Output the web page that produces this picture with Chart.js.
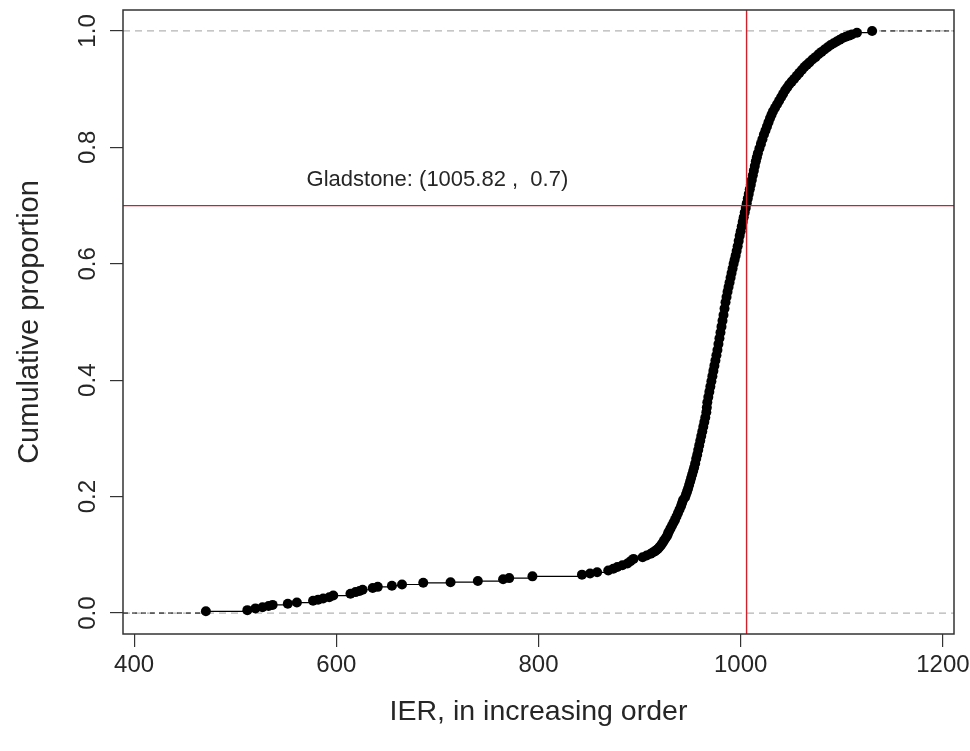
<!DOCTYPE html>
<html>
<head>
<meta charset="utf-8">
<script src="https://cdn.jsdelivr.net/npm/chart.js@4.4.1/dist/chart.umd.min.js"></script>
<style>
  html, body { margin: 0; padding: 0; background: #fff; }
</style>
</head>
<body>
<canvas id="ecdf" width="970" height="751"></canvas>
<script>
/* ECDF of IER, R-style (plot.ecdf) */

// sorted IER values and their cumulative proportion
const ierValues = [
  471, 512, 520, 527, 533, 537, 552, 561, 577, 582,
  587, 593, 597, 614, 619, 623, 626, 636, 641, 655,
  665, 686, 713, 740, 765, 771, 794, 843, 851, 858,
  869, 874, 878, 883, 888, 891, 894, 903, 907, 911,
  913, 915, 916.5, 918, 919.5, 921, 922.5, 924, 925.5, 927,
  928, 929, 930.5, 932, 933.5, 935, 936.5, 938, 939.5, 941,
  942, 943, 945, 946, 947, 948, 949, 950, 951, 952,
  953, 954, 955, 956, 957, 958, 959, 960, 961, 962,
  963, 964, 965, 966, 966.5, 967, 968, 969, 970, 971,
  972, 973, 974, 975, 976, 977, 978, 979, 980, 981,
  982, 983, 984, 985, 986, 987, 988, 989, 990, 991,
  992, 993, 994, 995, 996, 997, 998, 999, 1000, 1001,
  1002, 1003, 1004, 1005, 1006, 1007, 1008, 1009, 1010, 1011,
  1012, 1013, 1014, 1015, 1016, 1017, 1018.5, 1020, 1021.5, 1023,
  1024.5, 1026, 1027.5, 1029, 1030.5, 1032, 1034, 1036, 1038, 1040,
  1042, 1044, 1046, 1048, 1050.5, 1053, 1055.5, 1058, 1060.5, 1063,
  1065.5, 1068, 1071, 1074, 1077, 1080, 1083, 1086, 1089, 1092,
  1095, 1098, 1101, 1104, 1107, 1110, 1115, 1130
];
const cumProp = [
  0.003, 0.005, 0.008, 0.010, 0.012, 0.014, 0.016, 0.018, 0.021, 0.023,
  0.025, 0.027, 0.030, 0.033, 0.036, 0.038, 0.040, 0.043, 0.045, 0.047,
  0.049, 0.052, 0.053, 0.055, 0.058, 0.060, 0.063, 0.066, 0.068, 0.070,
  0.073, 0.076, 0.079, 0.082, 0.085, 0.089, 0.093, 0.096, 0.099, 0.102,
  0.104, 0.106, 0.108, 0.110, 0.113, 0.116, 0.120, 0.124, 0.128, 0.132,
  0.136, 0.140, 0.145, 0.150, 0.155, 0.160, 0.166, 0.172, 0.178, 0.184,
  0.189, 0.194, 0.199, 0.204, 0.209, 0.214, 0.220, 0.226, 0.232, 0.238,
  0.244, 0.250, 0.257, 0.265, 0.272, 0.280, 0.288, 0.296, 0.304, 0.312,
  0.320, 0.328, 0.336, 0.345, 0.353, 0.362, 0.371, 0.380, 0.389, 0.398,
  0.407, 0.416, 0.425, 0.434, 0.443, 0.452, 0.462, 0.472, 0.482, 0.492,
  0.502, 0.512, 0.523, 0.534, 0.543, 0.552, 0.560, 0.568, 0.576, 0.584,
  0.592, 0.600, 0.607, 0.614, 0.622, 0.630, 0.639, 0.648, 0.656, 0.664,
  0.672, 0.680, 0.688, 0.696, 0.704, 0.712, 0.720, 0.728, 0.736, 0.744,
  0.752, 0.760, 0.768, 0.776, 0.783, 0.790, 0.798, 0.806, 0.814, 0.822,
  0.829, 0.836, 0.843, 0.850, 0.856, 0.862, 0.868, 0.874, 0.880, 0.886,
  0.892, 0.898, 0.903, 0.908, 0.913, 0.918, 0.923, 0.928, 0.933, 0.938,
  0.942, 0.946, 0.951, 0.955, 0.960, 0.964, 0.968, 0.972, 0.976, 0.979,
  0.982, 0.985, 0.988, 0.990, 0.992, 0.994, 0.997, 1.000
];
const xTicks = [400, 600, 800, 1000, 1200];
const yTicks = [0, 0.2, 0.4, 0.6, 0.8, 1.0];
const xRange = [389, 1211];
const yRange = [-0.036, 1.036];
const marker = { x: 1005.82, y: 0.7 };
const markerLabel = 'Gladstone: (1005.82 ,  0.7)';
const labelAt = { x: 700, y: 0.744 };

const sans = "'Liberation Sans', Arial, sans-serif";
const ink = '#262626';

const points = ierValues.map((v, i) => ({ x: v, y: cumProp[i] }));
const leftTail = [{ x: xRange[0], y: 0 }, { x: ierValues[0], y: 0 }];
const rightTail = [{ x: ierValues[ierValues.length - 1], y: 1 }, { x: xRange[1], y: 1 }];

const rPlot = {
  id: 'rPlot',
  beforeDatasetsDraw(chart) {
    const { ctx, chartArea: a, scales: { y } } = chart;
    ctx.save();
    ctx.strokeStyle = '#b4b4b4';
    ctx.lineWidth = 1.2;
    ctx.setLineDash([7, 5]);
    [0, 1].forEach((v) => {
      const py = y.getPixelForValue(v);
      ctx.beginPath(); ctx.moveTo(a.left, py); ctx.lineTo(a.right, py); ctx.stroke();
    });
    ctx.restore();
  },
  afterDatasetsDraw(chart) {
    const { ctx, chartArea: a, scales: { x, y } } = chart;
    ctx.save();
    // reference lines
    ctx.strokeStyle = '#d0202c';
    ctx.lineWidth = 1.4;
    const mx = x.getPixelForValue(marker.x), my = y.getPixelForValue(marker.y);
    ctx.beginPath(); ctx.moveTo(mx, a.top); ctx.lineTo(mx, a.bottom); ctx.stroke();
    ctx.beginPath(); ctx.moveTo(a.left, my); ctx.lineTo(a.right, my); ctx.stroke();
    // label
    ctx.fillStyle = ink;
    ctx.font = '22px ' + sans;
    ctx.textAlign = 'center';
    ctx.textBaseline = 'middle';
    ctx.fillText(markerLabel, x.getPixelForValue(labelAt.x), y.getPixelForValue(labelAt.y));
    // plot box
    ctx.strokeStyle = '#333';
    ctx.lineWidth = 1.5;
    ctx.strokeRect(a.left, a.top, a.right - a.left, a.bottom - a.top);
    ctx.restore();
  },
};

new Chart(document.getElementById('ecdf'), {
  type: 'line',
  data: {
    datasets: [
      {
        data: points,
        stepped: true,
        borderColor: '#000',
        borderWidth: 1.2,
        pointRadius: 5,
        pointBackgroundColor: '#000',
        pointBorderWidth: 0,
      },
      { data: leftTail, borderColor: '#000', borderWidth: 1, borderDash: [5, 4], pointRadius: 0 },
      { data: rightTail, borderColor: '#000', borderWidth: 1, borderDash: [5, 4], pointRadius: 0 },
    ],
  },
  options: {
    responsive: false,
    animation: false,
    layout: { padding: { top: 10, right: 16, left: 0, bottom: 0 } },
    plugins: { legend: { display: false }, tooltip: { enabled: false } },
    scales: {
      x: {
        type: 'linear',
        min: xRange[0], max: xRange[1],
        afterBuildTicks: (s) => { s.ticks = xTicks.map((v) => ({ value: v })); },
        afterFit: (s) => { s.height = 117; s.paddingLeft = 0; s.paddingRight = 0; },
        ticks: { color: ink, font: { family: sans, size: 24 }, padding: 4, maxRotation: 0, callback: (v) => String(v) },
        grid: { drawOnChartArea: false, tickLength: 13, color: '#333', lineWidth: 1.2 },
        border: { display: false },
        title: {
          display: true, text: 'IER, in increasing order', color: ink,
          font: { family: sans, size: 28.5 }, padding: { top: 0, bottom: 22 },
        },
      },
      y: {
        type: 'linear',
        min: yRange[0], max: yRange[1],
        afterBuildTicks: (s) => { s.ticks = yTicks.map((v) => ({ value: v })); },
        afterFit: (s) => { s.width = 123; s.paddingTop = 0; s.paddingBottom = 0; },
        ticks: {
          color: ink, font: { family: sans, size: 24 }, padding: 5,
          minRotation: 90, maxRotation: 90, crossAlign: 'center',
          callback: (v) => v.toFixed(1),
        },
        grid: { drawOnChartArea: false, tickLength: 13, color: '#333', lineWidth: 1.2 },
        border: { display: false },
        title: {
          display: true, text: 'Cumulative proportion', color: ink,
          font: { family: sans, size: 29 }, padding: { top: 13, bottom: 0 },
        },
      },
    },
  },
  plugins: [rPlot],
});
</script>
</body>
</html>
